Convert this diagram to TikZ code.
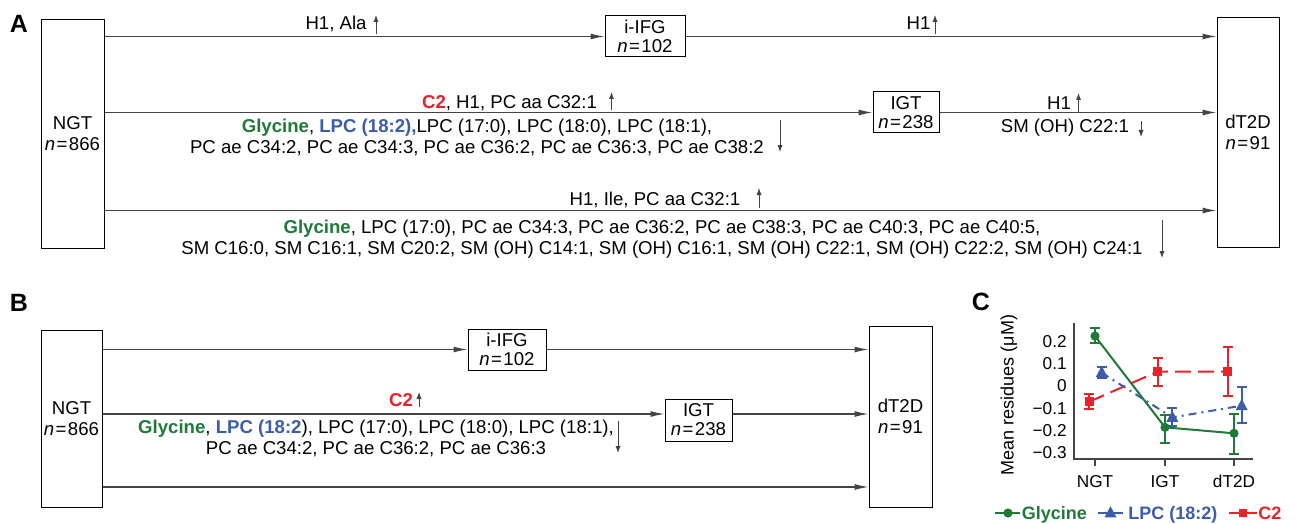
\documentclass[tikz,border=0pt]{standalone}
\usepackage{fontspec}
\setmainfont{Liberation Sans}
\usetikzlibrary{arrows.meta}
\definecolor{gly}{HTML}{1F7A3A}
\definecolor{lpc}{HTML}{3D5DAA}
\definecolor{ctwo}{HTML}{E52329}
\definecolor{linegray}{HTML}{444444}
\newcommand{\nval}[1]{\textit{n}\kern0.7pt=\kern0.7pt#1}

\begin{document}
\begin{tikzpicture}[x=0.5pt, y=-0.5pt,
	font=\fontsize{9.3}{10.5}\selectfont,
	box/.style={draw=black, line width=0.5pt, inner sep=0pt, align=center},
	smallbox/.style={box, font=\fontsize{9.3}{9.5}\selectfont},
	flow/.style={draw=linegray, line width=0.6pt, -{Latex[length=7pt, width=3pt]}},
	trend/.style={draw=linegray, line width=0.45pt, -{Latex[length=3.5pt, width=2.6pt]}},
	lbl/.style={inner sep=0pt, align=center},
	panel/.style={inner sep=0pt, font=\fontsize{12.5}{12.5}\selectfont\bfseries},
	plotfont/.style={inner sep=0pt, font=\fontsize{8.6}{8.6}\selectfont},
	legfont/.style={inner sep=0pt, anchor=base west, font=\fontsize{9}{9}\selectfont\bfseries}
]
	\useasboundingbox (0,0) rectangle (1295,524);
	
	%Panel A
	\node[panel] (labA) at (19,23.5) {A};
	\node[box, minimum width=31.5pt, minimum height=114pt] (ngtA) at (72.5,134) {NGT\\\nval{866}};
	\node[box, minimum width=31pt, minimum height=114.5pt] (dtdA) at (1248,132.5) {dT2D\\\nval{91}};
	\node[smallbox, minimum width=40pt, minimum height=20.5pt] (ifgA) at (645,36.5) {i-IFG\\\nval{102}};
	\node[smallbox, minimum width=33pt, minimum height=20.5pt] (igtA) at (906,112.5) {IGT\\\nval{238}};
	\coordinate (lowA) at (104,210.5);
	
	\draw[flow] (ngtA.east |- ifgA.west) -- (ifgA.west);
	\draw[flow] (ifgA.east) -- (ifgA.east -| dtdA.west);
	\draw[flow] (ngtA.east |- igtA.west) -- (igtA.west);
	\draw[flow] (igtA.east) -- (igtA.east -| dtdA.west);
	\draw[flow] (ngtA.east |- lowA) -- (lowA -| dtdA.west);
	
	\node[lbl] (upA1) at (336,23.5) {H1, Ala};
	\draw[trend] (376,34) -- (376,15);
	\node[lbl] (upA2) at (918.5,23.5) {H1};
	\draw[trend] (935,34) -- (935,15);
	
	\node[lbl] (upA3) at (509.5,103) {{\color{ctwo}\bfseries C2}, H1, PC aa C32:1};
	\draw[trend] (611.5,110) -- (611.5,92);
	\node[lbl] (dnA3) at (477,137.5) {{\color{gly}\bfseries Glycine}, {\color{lpc}\bfseries LPC (18:2),}LPC (17:0), LPC (18:0), LPC (18:1),\\PC ae C34:2, PC ae C34:3, PC ae C36:2, PC ae C36:3, PC ae C38:2};
	\draw[trend] (780,120) -- (780,152);
	
	\node[lbl] (upA4) at (1059,103) {H1};
	\draw[trend] (1078.5,112) -- (1078.5,93);
	\node[lbl] (dnA4) at (1065,128) {SM (OH) C22:1};
	\draw[trend] (1141,121) -- (1141,137);
	
	\node[lbl] (upA5) at (655,200) {H1, Ile, PC aa C32:1};
	\draw[trend] (759,208) -- (759,188);
	\node[lbl] (dnA5) at (662,239) {{\color{gly}\bfseries Glycine}, LPC (17:0), PC ae C34:3, PC ae C36:2, PC ae C38:3, PC ae C40:3, PC ae C40:5,\\SM C16:0, SM C16:1, SM C20:2, SM (OH) C14:1, SM (OH) C16:1, SM (OH) C22:1, SM (OH) C22:2, SM (OH) C24:1};
	\draw[trend] (1162,220) -- (1162,258);
	
	%Panel B
	\node[panel] (labB) at (19,303) {B};
	\node[box, minimum width=30.5pt, minimum height=88.5pt] (ngtB) at (71.5,418.5) {NGT\\\nval{866}};
	\node[box, minimum width=31.5pt, minimum height=90.5pt] (dtdB) at (900.5,416.5) {dT2D\\\nval{91}};
	\node[smallbox, minimum width=39pt, minimum height=20.5pt] (ifgB) at (507,349.5) {i-IFG\\\nval{102}};
	\node[smallbox, minimum width=33.5pt, minimum height=21pt] (igtB) at (698.5,420) {IGT\\\nval{238}};
	\coordinate (midB) at (102,414);
	\coordinate (lowB) at (102,487);
	
	\draw[flow] (ngtB.east |- ifgB.west) -- (ifgB.west);
	\draw[flow] (ifgB.east) -- (ifgB.east -| dtdB.west);
	\draw[flow] (ngtB.east |- midB) -- (midB -| igtB.west);
	\draw[flow] (midB -| igtB.east) -- (midB -| dtdB.west);
	\draw[flow] (ngtB.east |- lowB) -- (lowB -| dtdB.west);
	
	\node[lbl] (upB) at (401,400.5) {\color{ctwo}\bfseries C2};
	\draw[trend] (419,407) -- (419,392);
	\node[lbl] (dnB) at (376,438) {{\color{gly}\bfseries Glycine}, {\color{lpc}\bfseries LPC (18:2}), LPC (17:0), LPC (18:0), LPC (18:1),\\PC ae C34:2, PC ae C36:2, PC ae C36:3};
	\draw[trend] (618,421) -- (618,453);
	
	%Panel C
	\node[panel] (labC) at (981,301.5) {C};
	\node[plotfont, rotate=90, font=\fontsize{9}{9}\selectfont] (ylab) at (1009,395) {Mean residues (μM)};
	\begin{scope}[shift={(0pt,-193pt)}, y=110.5pt]
		%Achsen
		\draw[linegray, line width=0.65pt] (1074,0.285) -- (1074,-0.33) -- (1253,-0.33);
		\foreach \v/\t in {0.2/0.2, 0.1/0.1, 0/0, -0.1/−0.1, -0.2/−0.2, -0.3/−0.3}
			\node[plotfont, anchor=east] at (1067,\v) {\t};
		\foreach \x/\t in {1095/NGT, 1165/IGT, 1234/dT2D}{
			\draw[linegray, line width=0.65pt] (\x,-0.33) -- (\x,-0.363);
			\node[plotfont] at (\x,-0.433) {\t};
		}
		
		%Fehlerbalken
		\foreach \x/\a/\b in {1095/0.261/0.193, 1165/-0.131/-0.257, 1234/-0.128/-0.309}
			\draw[gly, line width=0.9pt] (\x,\a) -- (\x,\b) (\x-5,\a) -- (\x+5,\a) (\x-5,\b) -- (\x+5,\b);
		\foreach \x/\a/\b in {1101.7/0.085/0.035, 1172.3/-0.101/-0.181, 1241.7/-0.003/-0.166}
			\draw[lpc, line width=0.9pt] (\x,\a) -- (\x,\b) (\x-5,\a) -- (\x+5,\a) (\x-5,\b) -- (\x+5,\b);
		\foreach \x/\a/\b in {1089.3/-0.036/-0.105, 1157.7/0.128/0.001, 1227.7/0.178/-0.045}
			\draw[ctwo, line width=0.9pt] (\x,\a) -- (\x,\b) (\x-5,\a) -- (\x+5,\a) (\x-5,\b) -- (\x+5,\b);
		
		%Kurven
		\draw[ctwo, line width=1pt, dash pattern=on 8pt off 3.5pt] (1089.3,-0.071) -- (1157.7,0.065) -- (1227.7,0.065);
		\draw[lpc, line width=1pt, dash pattern=on 4pt off 2.5pt on 1pt off 2.5pt] (1101.7,0.060) -- (1172.3,-0.142) -- (1241.7,-0.089);
		\draw[gly, line width=1pt] (1095,0.226) -- (1165,-0.187) -- (1234,-0.214);
		\foreach \x/\v in {1095/0.226, 1165/-0.187, 1234/-0.214}
			\fill[gly] (\x,\v) circle[radius=2.3pt];
		\foreach \x/\v in {1101.7/0.060, 1172.3/-0.142, 1241.7/-0.089}
			\fill[lpc] (\x,\v) +(0pt,3.4pt) -- +(-3pt,-2.2pt) -- +(3pt,-2.2pt) -- cycle;
		\foreach \x/\v in {1089.3/-0.071, 1157.7/0.065, 1227.7/0.065}
			\fill[ctwo] (\x,\v) +(-2.2pt,-2.2pt) rectangle +(2.2pt,2.2pt);
	\end{scope}
	
	%Legende
	\draw[gly, line width=1pt] (995,513) -- (1020,513);
	\fill[gly] (1008,513) circle[radius=2.3pt];
	\node[legfont, text=gly] (legGly) at (1021.5,519.5) {Glycine};
	\draw[lpc, line width=1pt] (1098,513) -- (1123,513);
	\fill[lpc] (1110.5,513) +(0pt,3.4pt) -- +(-3pt,-2.2pt) -- +(3pt,-2.2pt) -- cycle;
	\node[legfont, text=lpc] (legLpc) at (1128,519.5) {LPC (18:2)};
	\draw[ctwo, line width=1pt] (1229,513) -- (1257,513);
	\fill[ctwo] (1243,513) +(-2.2pt,-2.2pt) rectangle +(2.2pt,2.2pt);
	\node[legfont, text=ctwo] (legCtwo) at (1258,519.5) {C2};
	
\end{tikzpicture}
\end{document}
